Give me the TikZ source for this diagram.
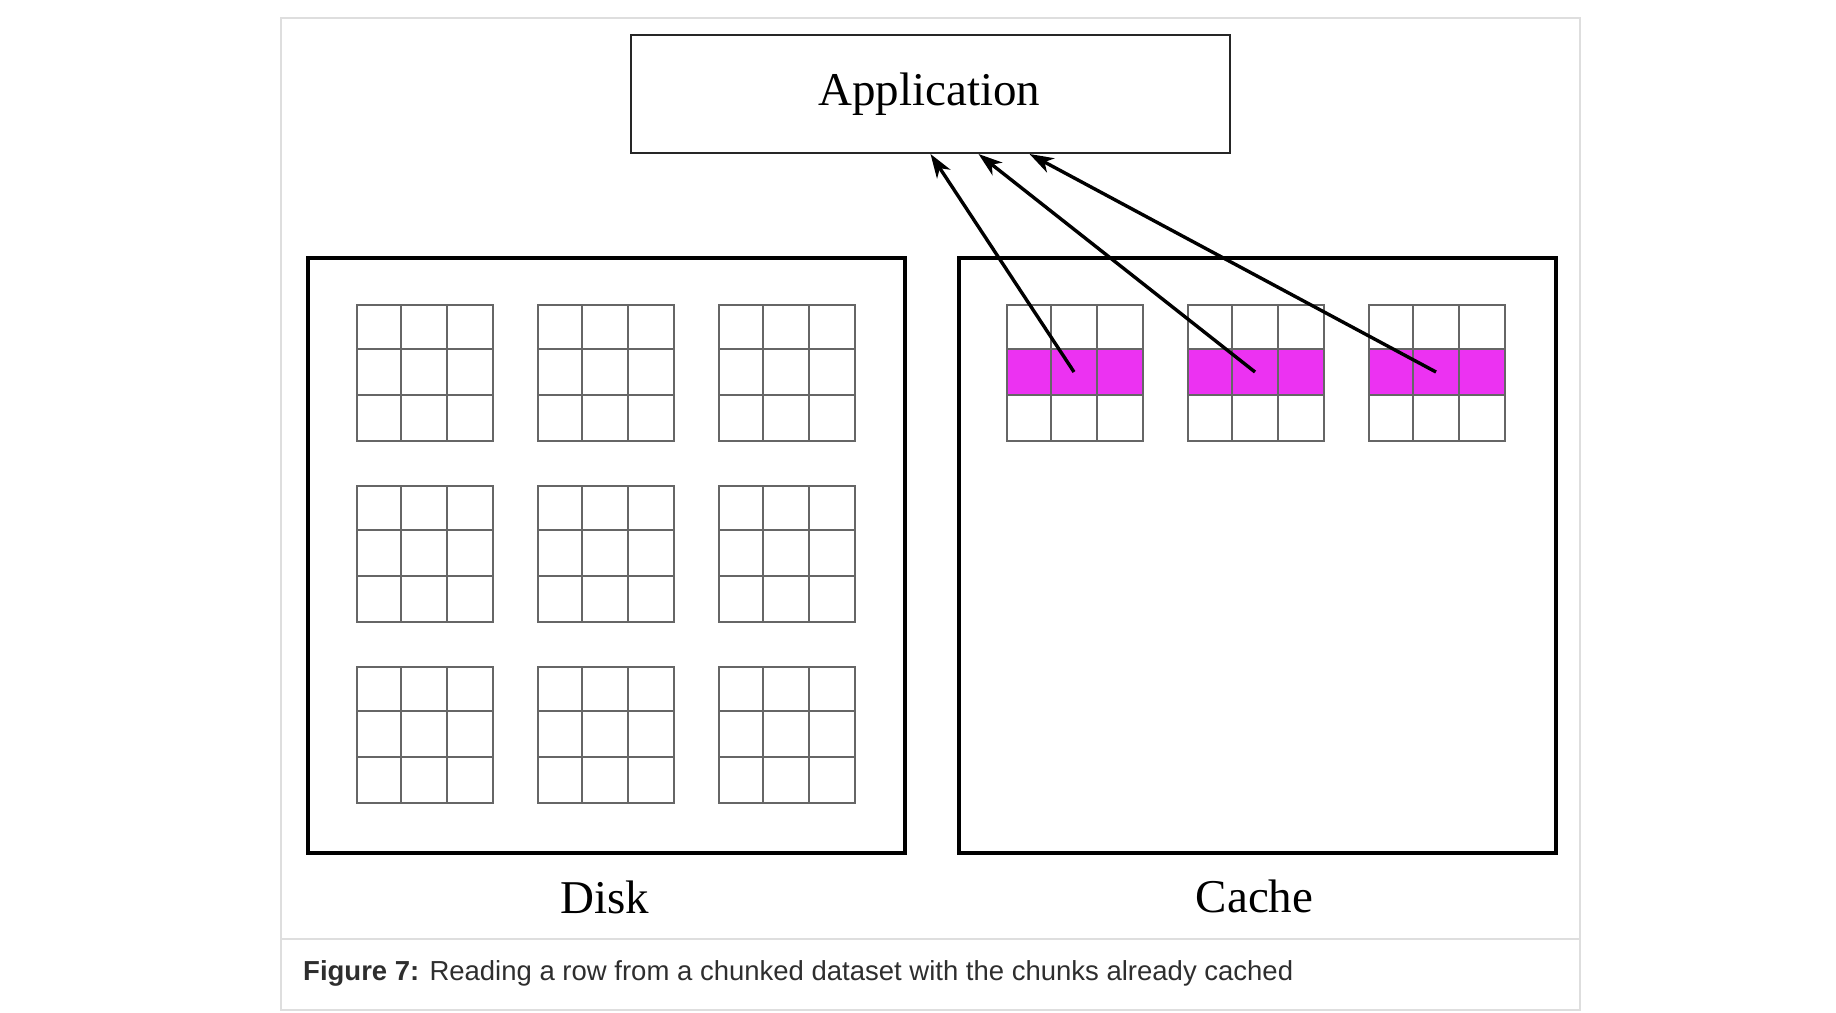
\documentclass[tikz,border=0pt]{standalone}
\usepackage{fontspec}
\setmainfont{Liberation Serif}
\newfontfamily\capfont{Liberation Sans}
\usetikzlibrary{arrows.meta,calc}
\definecolor{framegray}{HTML}{DEDEDE}
\definecolor{gridgray}{HTML}{666666}
\definecolor{hilite}{RGB}{236,50,242}
\definecolor{captext}{HTML}{2E2E2E}
\begin{document}
\begin{tikzpicture}[x=1pt,y=-1pt,
  framebox/.style={draw=framegray,line width=2pt,minimum width=1299pt,minimum height=992pt,inner sep=0pt,anchor=north west},
  bigbox/.style={draw=black,line width=3.5pt,minimum width=597pt,minimum height=595pt,inner sep=0pt,anchor=north west},
  appbox/.style={draw=black!85,line width=2pt,minimum width=599pt,minimum height=118pt,inner sep=0pt,anchor=north west},
  chunk/.style={draw=gridgray,line width=2pt,minimum size=136pt,inner sep=0pt,anchor=north west},
  cell/.style={minimum size=45.33pt,inner sep=0pt},
  gridline/.style={draw=gridgray,line width=2pt},
  readarrow/.style={line width=3.4pt,-{Stealth[length=24pt,width=16pt,inset=7pt]}},
  bigtext/.style={font=\fontsize{47}{56}\selectfont,inner sep=0pt,anchor=base}]

\useasboundingbox (0,0) rectangle (1836,1012);

% outer figure frame and caption separator
\node[framebox] (frame) at (280,17) {};
\draw[framegray,line width=2pt] (280,939) -- (1579,939);

% application box
\node[appbox] (app) at (630,34) {};
\node[bigtext] (apptext) at (929.5,105) {Application};

% disk and cache boxes
\node[bigbox] (disk) at (306,256) {};
\node[bigbox] (cache) at (957,256) {};
\node[bigtext] (disklabel) at (605,913) {Disk};
\node[bigtext] (cachelabel) at (1254.5,912) {Cache};

% disk chunks
\foreach \i in {0,1,2} {
  \foreach \j in {0,1,2} {
    \node[chunk] (d\i\j) at ({356+181*\i},{304+181*\j}) {};
    \draw[gridline] ({356+181*\i+45.33},{304+181*\j}) -- ++(0,136);
    \draw[gridline] ({356+181*\i+90.67},{304+181*\j}) -- ++(0,136);
    \draw[gridline] ({356+181*\i},{304+181*\j+45.33}) -- ++(136,0);
    \draw[gridline] ({356+181*\i},{304+181*\j+90.67}) -- ++(136,0);
  }
}

% cache chunks with highlighted row
\foreach \i in {0,1,2} {
  \fill[hilite] ({1006+181*\i},{349.33}) rectangle ++(136,45.33);
  \node[chunk] (c\i) at ({1006+181*\i},304) {};
  \draw[gridline] ({1006+181*\i+45.33},304) -- ++(0,136);
  \draw[gridline] ({1006+181*\i+90.67},304) -- ++(0,136);
  \draw[gridline] ({1006+181*\i},349.33) -- ++(136,0);
  \draw[gridline] ({1006+181*\i},394.67) -- ++(136,0);
  \node[cell] (mid\i) at ({1006+181*\i+68},372) {};
}

% arrow end points on the application box
\coordinate (tip0) at ($(app.south)+(0,0)$);
\coordinate (tip1) at ($(app.south)+(48,0)$);
\coordinate (tip2) at ($(app.south)+(99,0)$);

\draw[readarrow] (mid0.center) -- (tip0);
\draw[readarrow] (mid1.center) -- (tip1);
\draw[readarrow] (mid2.center) -- (tip2);

% caption
\node[anchor=base west,inner sep=0pt,font=\capfont\fontsize{27.5}{32}\selectfont,text=captext] (caption) at (303,980)
  {\textbf{Figure 7:} Reading a row from a chunked dataset with the chunks already cached};
\end{tikzpicture}
\end{document}
